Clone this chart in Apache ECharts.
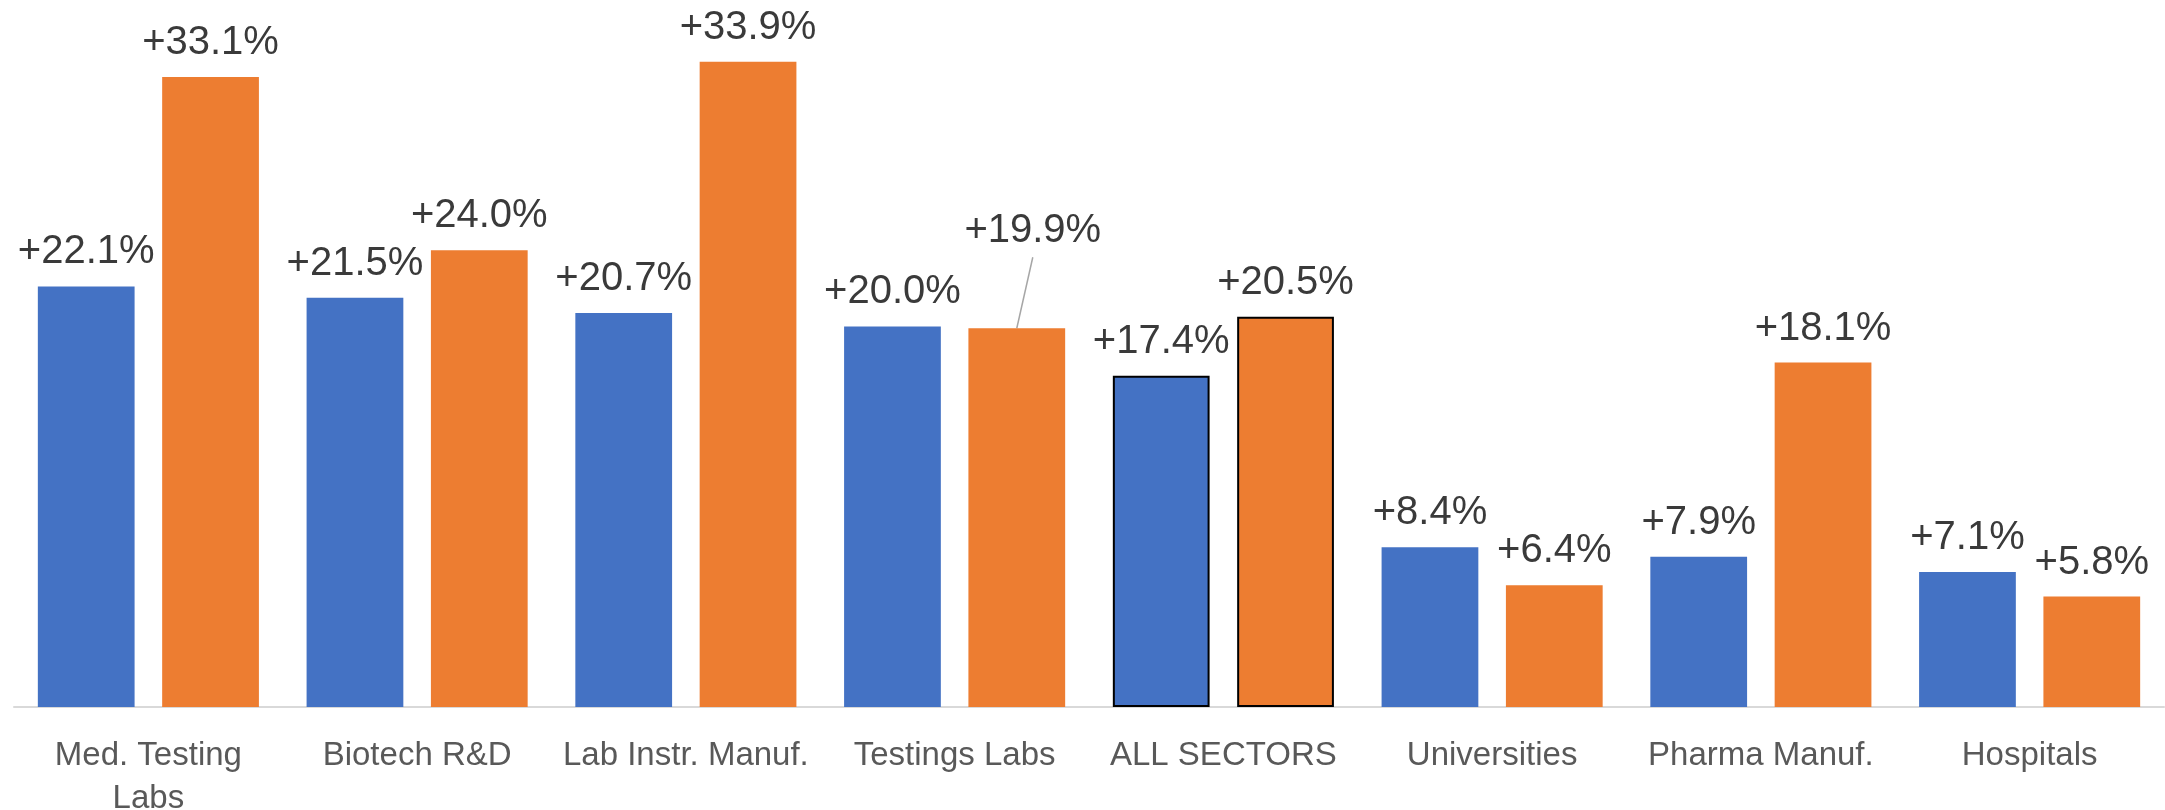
<!DOCTYPE html>
<html>
<head>
<meta charset="utf-8">
<script src="https://cdn.jsdelivr.net/npm/echarts@6/dist/echarts.min.js"></script>
<style>
html,body{margin:0;padding:0;background:#fff;}
#chart{width:2165px;height:810px;}
</style>
</head>
<body>
<div id="chart"></div>
<script>
const categories = ['Med. Testing Labs', 'Biotech R&D', 'Lab Instr. Manuf.', 'Testings Labs', 'ALL SECTORS', 'Universities', 'Pharma Manuf.', 'Hospitals'];
const blueValues = [22.1, 21.5, 20.7, 20.0, 17.4, 8.4, 7.9, 7.1];
const orangeValues = [33.1, 24.0, 33.9, 19.9, 20.5, 6.4, 18.1, 5.8];
const highlightCategory = 'ALL SECTORS';
const movedLabel = { series: 1, index: 3 };

const FONT = '"Liberation Sans", Arial, sans-serif';
const BLUE = '#4472C4';
const ORANGE = '#ED7D31';
const LABEL_DX = 16, LABEL_DY = -63;

function buildData(values, color, seriesIdx) {
  return values.map((v, i) => {
    const item = { value: v };
    if (categories[i] === highlightCategory) {
      item.itemStyle = { color: color, borderColor: '#000', borderWidth: 2 };
    }
    return item;
  });
}

const labelCfg = {
  show: true,
  position: 'top',
  distance: 14,
  color: '#3a3a3a',
  fontFamily: FONT,
  fontSize: 40,
  formatter: p => '+' + p.value.toFixed(1) + '%'
};

const chart = echarts.init(document.getElementById('chart'), null, { renderer: 'canvas' });
chart.setOption({
  animation: false,
  backgroundColor: '#fff',
  grid: { left: 14, right: 1, top: 0, bottom: 103, containLabel: false, outerBoundsMode: 'none' },
  xAxis: {
    type: 'category',
    data: categories,
    axisLine: { show: true, lineStyle: { color: '#d9d9d9', width: 2 } },
    axisTick: { show: false },
    axisLabel: {
      color: '#595959',
      fontFamily: FONT,
      fontSize: 33,
      margin: 27,
      lineHeight: 43,
      interval: 0,
      formatter: v => v.replace('Med. Testing ', 'Med. Testing\n')
    }
  },
  yAxis: {
    type: 'value',
    min: 0,
    max: 37.15,
    show: false,
    splitLine: { show: false }
  },
  series: [
    {
      type: 'bar',
      data: buildData(blueValues, BLUE, 0),
      itemStyle: { color: BLUE },
      barWidth: '36%',
      barGap: '28.5%',
      label: labelCfg
    },
    {
      type: 'bar',
      data: buildData(orangeValues, ORANGE, 1),
      itemStyle: { color: ORANGE },
      barWidth: '36%',
      barGap: '28.5%',
      label: labelCfg,
      labelLayout: function (params) {
        if (params.dataIndex === movedLabel.index) {
          return { dx: LABEL_DX, dy: LABEL_DY };
        }
        return {};
      }
    }
  ]
});

// Leader line for the moved label, from the library's bar layout
const layout = chart.getModel().getSeriesByIndex(movedLabel.series).getData().getItemLayout(movedLabel.index);
if (layout) {
  const cx = layout.x + layout.width / 2;
  const top = Math.min(layout.y, layout.y + layout.height);
  chart.setOption({
    graphic: [{
      type: 'line',
      silent: true,
      shape: { x1: cx + LABEL_DX, y1: top + LABEL_DY - 8, x2: cx, y2: top },
      style: { stroke: '#a6a6a6', lineWidth: 1.5 }
    }]
  });
}
</script>
</body>
</html>
